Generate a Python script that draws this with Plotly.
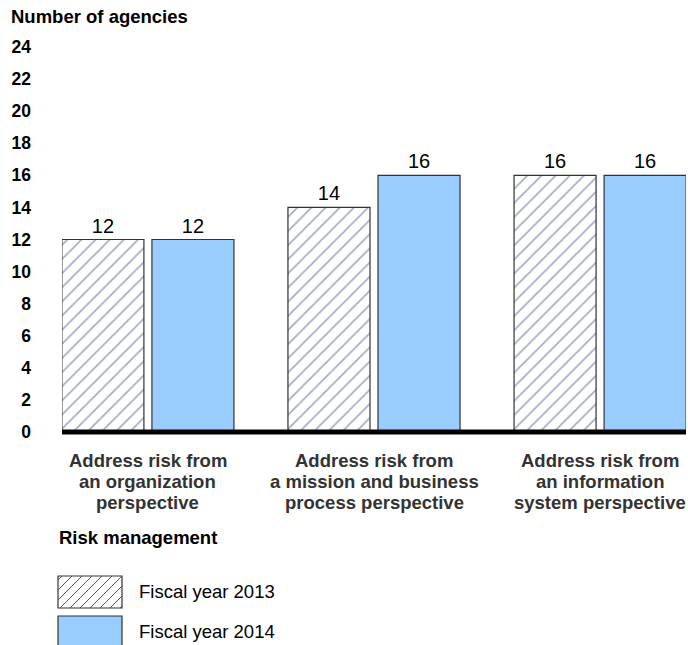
import plotly.graph_objects as go

categories = ["Address risk from an organization perspective",
              "Address risk from a mission and business process perspective",
              "Address risk from an information system perspective"]
category_lines = [["Address risk from", "an organization", "perspective"],
                  ["Address risk from", "a mission and business", "process perspective"],
                  ["Address risk from", "an information", "system perspective"]]
fy2013 = [12, 14, 16]
fy2014 = [12, 16, 16]
series_names = ["Fiscal year 2013", "Fiscal year 2014"]
y_ticks = list(range(0, 25, 2))

FONT = "Liberation Sans, Arial, sans-serif"
BLUE = "#99ccff"
HATCH = "#3f5588"
EDGE = "#333333"

W, H = 688, 645
ML, MR, MT, MB = 62, 2, 47, 213

fig = go.Figure()
fig.add_trace(go.Bar(
    x=categories, y=fy2013, name=series_names[0],
    marker=dict(color="white", line=dict(color=EDGE, width=1.2),
                pattern=dict(shape="/", fgcolor=HATCH, bgcolor="white", size=10, solidity=0.16)),
    text=fy2013, textposition="outside", textfont=dict(size=20, color="black", family=FONT),
    cliponaxis=False, showlegend=False))
fig.add_trace(go.Bar(
    x=categories, y=fy2014, name=series_names[1],
    marker=dict(color=BLUE, line=dict(color=EDGE, width=1.2)),
    text=fy2014, textposition="outside", textfont=dict(size=20, color="black", family=FONT),
    cliponaxis=False, showlegend=False))

fig.update_layout(
    width=W, height=H,
    margin=dict(l=ML, r=MR, t=MT, b=MB),
    paper_bgcolor="white", plot_bgcolor="white",
    barmode="group", bargap=0.2035, bargroupgap=0.0889,
    font=dict(family=FONT, color="black"),
    showlegend=False,
)
fig.update_xaxes(range=[-0.38, 2.38], showgrid=False, showline=False, zeroline=False,
                 showticklabels=False, ticks="")
fig.update_yaxes(range=[0, 24], tickvals=y_ticks, ticktext=["<b>%d</b>" % v for v in y_ticks],
                 showgrid=False, showline=False, zeroline=False, ticks="", ticklabelstandoff=30,
                 tickfont=dict(size=17.5, color="black", family=FONT))

# Category labels (three lines each, tight line spacing)
for cat, lines in zip(categories, category_lines):
    for i, line in enumerate(lines):
        fig.add_annotation(text="<b>%s</b>" % line, x=cat, y=0, xref="x", yref="y",
                           yanchor="middle", xanchor="center", yshift=-(28 + 21 * i),
                           showarrow=False,
                           font=dict(size=18.5, color="#333333", family=FONT))

def px(xp):
    return (xp - ML) / (W - ML - MR)
def py(yp):
    return (H - MB - yp) / (H - MT - MB)

# Thick baseline (paper-referenced so it is not clipped by the plot area)
fig.add_shape(type="line", xref="paper", yref="paper", x0=0, x1=1, y0=py(432), y1=py(432),
              line=dict(color="black", width=5))

# Axis title
fig.add_annotation(text="<b>Number of agencies</b>", xref="paper", yref="paper",
                   x=px(9), y=py(17), xanchor="left", yanchor="middle", showarrow=False,
                   font=dict(size=18.5, family=FONT, color="black"))
# Legend title
fig.add_annotation(text="<b>Risk management</b>", xref="paper", yref="paper",
                   x=px(57), y=py(537), xanchor="left", yanchor="middle", showarrow=False,
                   font=dict(size=18.5, family=FONT, color="black"))

sx0, sx1 = 58, 122
sy0, sy1 = 608, 576
fig.add_shape(type="rect", xref="paper", yref="paper", x0=px(sx0), x1=px(sx1), y0=py(sy0), y1=py(sy1),
              fillcolor="white", line=dict(color=EDGE, width=1.2))
step = 10
hgt = sy0 - sy1
for k in range(-hgt + 4, sx1 - sx0, step):
    xa, ya = sx0 + k, sy0
    xb, yb = sx0 + k + hgt, sy1
    if xa < sx0:
        ya = sy0 - (sx0 - xa); xa = sx0
    if xb > sx1:
        yb = sy1 + (xb - sx1); xb = sx1
    if xb <= xa:
        continue
    fig.add_shape(type="line", xref="paper", yref="paper", x0=px(xa), y0=py(ya), x1=px(xb), y1=py(yb),
                  line=dict(color=HATCH, width=1))
fig.add_annotation(text=series_names[0], xref="paper", yref="paper", x=px(137), y=py(591),
                   xanchor="left", yanchor="middle", showarrow=False,
                   font=dict(size=18.5, family=FONT, color="black"))
fig.add_shape(type="rect", xref="paper", yref="paper", x0=px(sx0), x1=px(sx1), y0=py(650), y1=py(616),
              fillcolor=BLUE, line=dict(color=EDGE, width=1.2))
fig.add_annotation(text=series_names[1], xref="paper", yref="paper", x=px(137), y=py(631),
                   xanchor="left", yanchor="middle", showarrow=False,
                   font=dict(size=18.5, family=FONT, color="black"))

fig.write_html("out.html", config={"displayModeBar": False},
               post_script="document.body.style.margin='0';document.body.style.overflow='hidden';")
